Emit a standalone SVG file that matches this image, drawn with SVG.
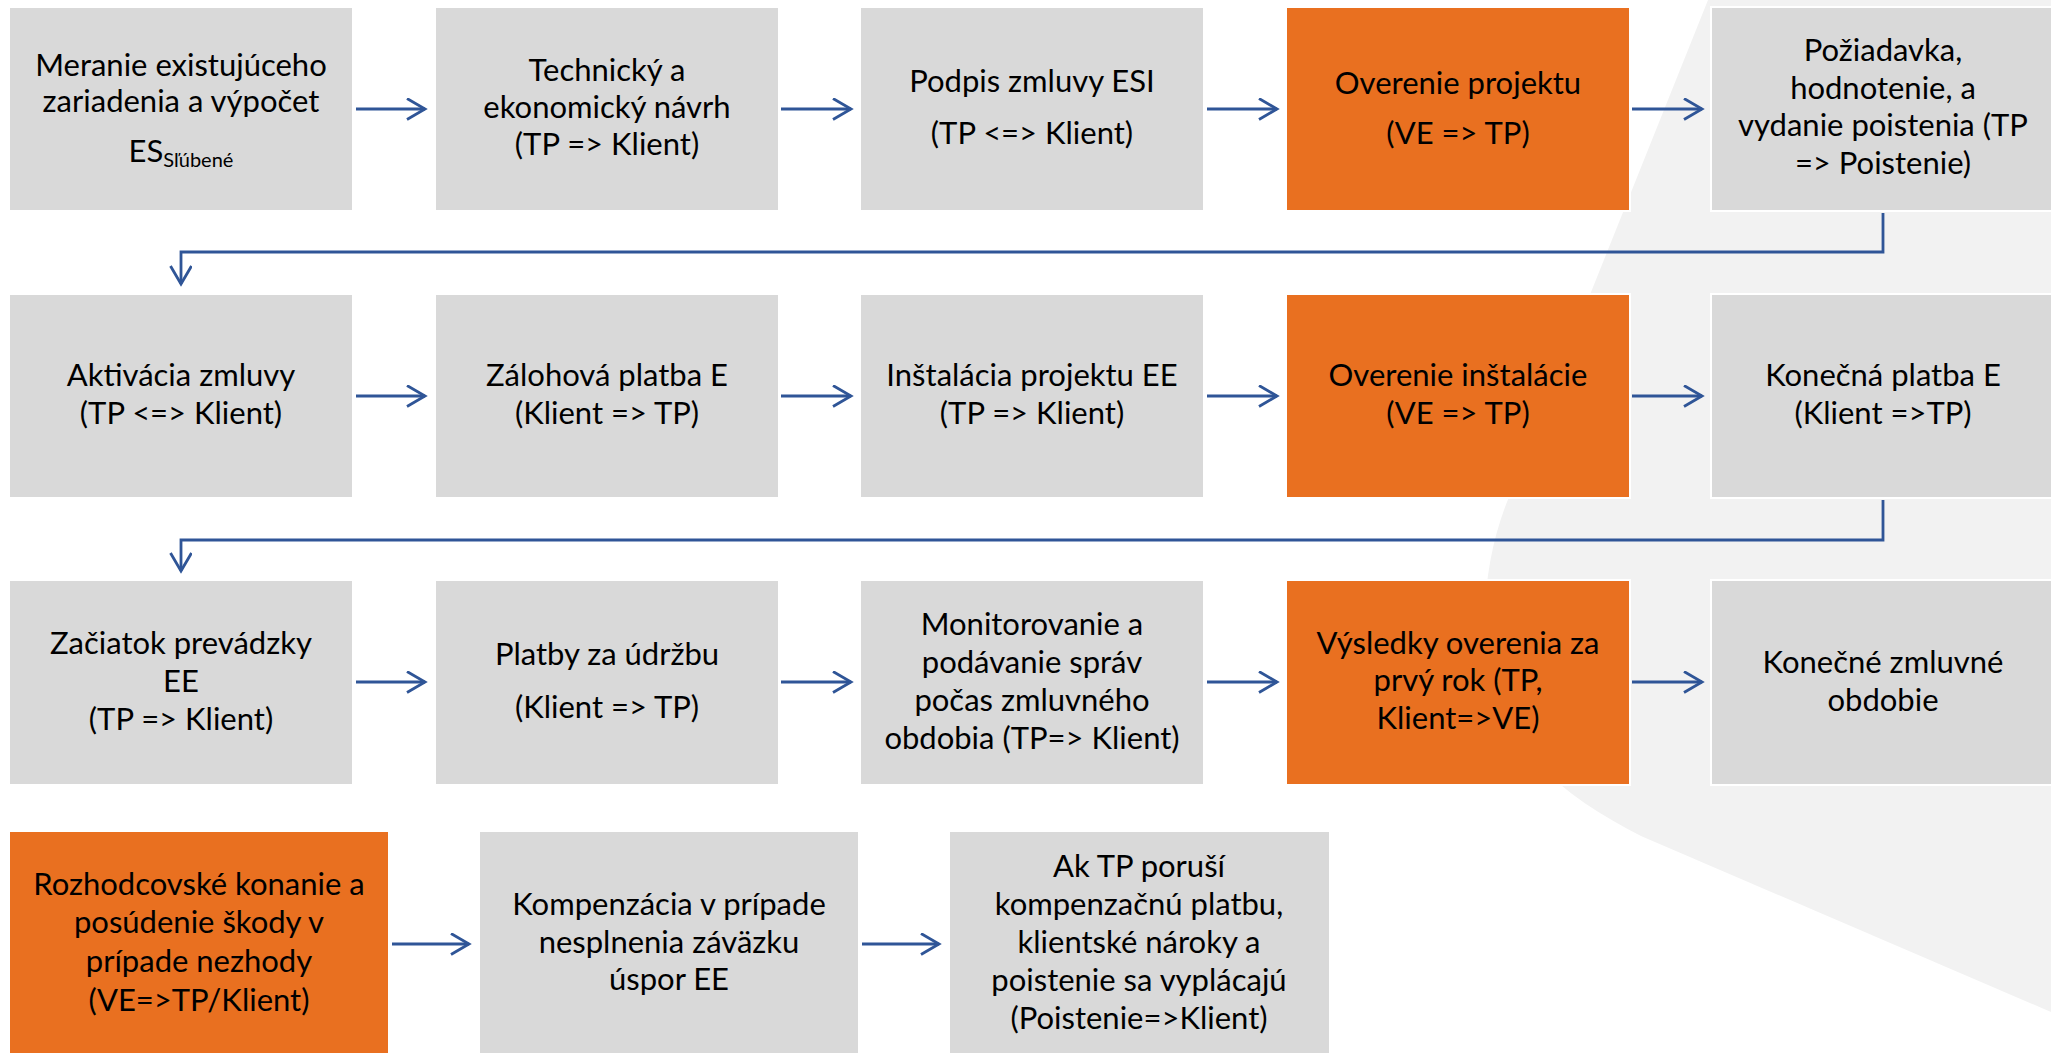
<svg xmlns="http://www.w3.org/2000/svg" width="2051" height="1053" viewBox="0 0 2051 1053">
<defs>
<style>
.g{fill:#D9D9D9;stroke:#FFFFFF;stroke-width:2}
.o{fill:#E97020;stroke:#FFFFFF;stroke-width:2}
text{font-family:Lato,"Liberation Sans",sans-serif;font-size:31px;fill:#000;text-anchor:middle}
.c{fill:none;stroke:#2F5597;stroke-width:2.8}
</style>
<marker id="ah" markerUnits="userSpaceOnUse" markerWidth="24" markerHeight="26" refX="19" refY="11" orient="auto" viewBox="0 0 24 26">
<path d="M1,0.5 L19,11 L1,21.5" fill="none" stroke="#2F5597" stroke-width="2.8"/>
</marker>
</defs>
<rect width="2051" height="1053" fill="#FFFFFF"/>
<path d="M1708,0 L1507,502 C1478,575 1470,690 1530,755 C1560,790 1600,815 1641,836 L2051,1012 L2051,0 Z" fill="#F2F2F2"/>

<g id="connectors">
<line class="c" x1="356" y1="109" x2="425" y2="109" marker-end="url(#ah)"/>
<line class="c" x1="781" y1="109" x2="851" y2="109" marker-end="url(#ah)"/>
<line class="c" x1="1207" y1="109" x2="1277" y2="109" marker-end="url(#ah)"/>
<line class="c" x1="1632" y1="109" x2="1702" y2="109" marker-end="url(#ah)"/>
<polyline class="c" points="1883,213 1883,252 181,252 181,284" marker-end="url(#ah)"/>
<line class="c" x1="356" y1="396" x2="425" y2="396" marker-end="url(#ah)"/>
<line class="c" x1="781" y1="396" x2="851" y2="396" marker-end="url(#ah)"/>
<line class="c" x1="1207" y1="396" x2="1277" y2="396" marker-end="url(#ah)"/>
<line class="c" x1="1632" y1="396" x2="1702" y2="396" marker-end="url(#ah)"/>
<polyline class="c" points="1883,500 1883,540 181,540 181,571" marker-end="url(#ah)"/>
<line class="c" x1="356" y1="682" x2="425" y2="682" marker-end="url(#ah)"/>
<line class="c" x1="781" y1="682" x2="851" y2="682" marker-end="url(#ah)"/>
<line class="c" x1="1207" y1="682" x2="1277" y2="682" marker-end="url(#ah)"/>
<line class="c" x1="1632" y1="682" x2="1702" y2="682" marker-end="url(#ah)"/>
<line class="c" x1="392" y1="944" x2="469" y2="944" marker-end="url(#ah)"/>
<line class="c" x1="862" y1="944" x2="939" y2="944" marker-end="url(#ah)"/>
</g>

<g id="n1"><rect class="g" x="9" y="7" width="344" height="204"/>
<text x="181" y="76">Meranie existujúceho</text>
<text x="181" y="112">zariadenia a výpočet</text>
<text x="181" y="162">ES<tspan font-size="20" dy="5">Sľúbené</tspan></text></g>
<g id="n2"><rect class="g" x="435" y="7" width="344" height="204"/>
<text x="607" y="81">Technický a</text>
<text x="607" y="118">ekonomický návrh</text>
<text x="607" y="155">(TP =&gt; Klient)</text></g>
<g id="n3"><rect class="g" x="860" y="7" width="344" height="204"/>
<text x="1032" y="92">Podpis zmluvy ESI</text>
<text x="1032" y="144">(TP &lt;=&gt; Klient)</text></g>
<g id="n4"><rect class="o" x="1286" y="7" width="344" height="204"/>
<text x="1458" y="94">Overenie projektu</text>
<text x="1458" y="144">(VE =&gt; TP)</text></g>
<g id="n5"><rect class="g" x="1711" y="7" width="344" height="204"/>
<text x="1883" y="61">Požiadavka,</text>
<text x="1883" y="99">hodnotenie, a</text>
<text x="1883" y="136">vydanie poistenia (TP</text>
<text x="1883" y="174">=&gt; Poistenie)</text></g>

<g id="n6"><rect class="g" x="9" y="294" width="344" height="204"/>
<text x="181" y="386">Aktivácia zmluvy</text>
<text x="181" y="424">(TP &lt;=&gt; Klient)</text></g>
<g id="n7"><rect class="g" x="435" y="294" width="344" height="204"/>
<text x="607" y="386">Zálohová platba E</text>
<text x="607" y="424">(Klient =&gt; TP)</text></g>
<g id="n8"><rect class="g" x="860" y="294" width="344" height="204"/>
<text x="1032" y="386">Inštalácia projektu EE</text>
<text x="1032" y="424">(TP =&gt; Klient)</text></g>
<g id="n9"><rect class="o" x="1286" y="294" width="344" height="204"/>
<text x="1458" y="386">Overenie inštalácie</text>
<text x="1458" y="424">(VE =&gt; TP)</text></g>
<g id="n10"><rect class="g" x="1711" y="294" width="344" height="204"/>
<text x="1883" y="386">Konečná platba E</text>
<text x="1883" y="424">(Klient =&gt;TP)</text></g>

<g id="n11"><rect class="g" x="9" y="580" width="344" height="205"/>
<text x="181" y="654">Začiatok prevádzky</text>
<text x="181" y="692">EE</text>
<text x="181" y="730">(TP =&gt; Klient)</text></g>
<g id="n12"><rect class="g" x="435" y="580" width="344" height="205"/>
<text x="607" y="665">Platby za údržbu</text>
<text x="607" y="718">(Klient =&gt; TP)</text></g>
<g id="n13"><rect class="g" x="860" y="580" width="344" height="205"/>
<text x="1032" y="635">Monitorovanie a</text>
<text x="1032" y="673">podávanie správ</text>
<text x="1032" y="711">počas zmluvného</text>
<text x="1032" y="749">obdobia (TP=&gt; Klient)</text></g>
<g id="n14"><rect class="o" x="1286" y="580" width="344" height="205"/>
<text x="1458" y="654">Výsledky overenia za</text>
<text x="1458" y="691">prvý rok (TP,</text>
<text x="1458" y="729">Klient=&gt;VE)</text></g>
<g id="n15"><rect class="g" x="1711" y="580" width="344" height="205"/>
<text x="1883" y="673">Konečné zmluvné</text>
<text x="1883" y="711">obdobie</text></g>

<g id="n16"><rect class="o" x="9" y="831" width="380" height="230"/>
<text x="199" y="895">Rozhodcovské konanie a</text>
<text x="199" y="933">posúdenie škody v</text>
<text x="199" y="972">prípade nezhody</text>
<text x="199" y="1011">(VE=&gt;TP/Klient)</text></g>
<g id="n17"><rect class="g" x="479" y="831" width="380" height="230"/>
<text x="669" y="915">Kompenzácia v prípade</text>
<text x="669" y="953">nesplnenia záväzku</text>
<text x="669" y="990">úspor EE</text></g>
<g id="n18"><rect class="g" x="949" y="831" width="381" height="230"/>
<text x="1139" y="877">Ak TP poruší</text>
<text x="1139" y="915">kompenzačnú platbu,</text>
<text x="1139" y="953">klientské nároky a</text>
<text x="1139" y="991">poistenie sa vyplácajú</text>
<text x="1139" y="1029">(Poistenie=&gt;Klient)</text></g>
</svg>
